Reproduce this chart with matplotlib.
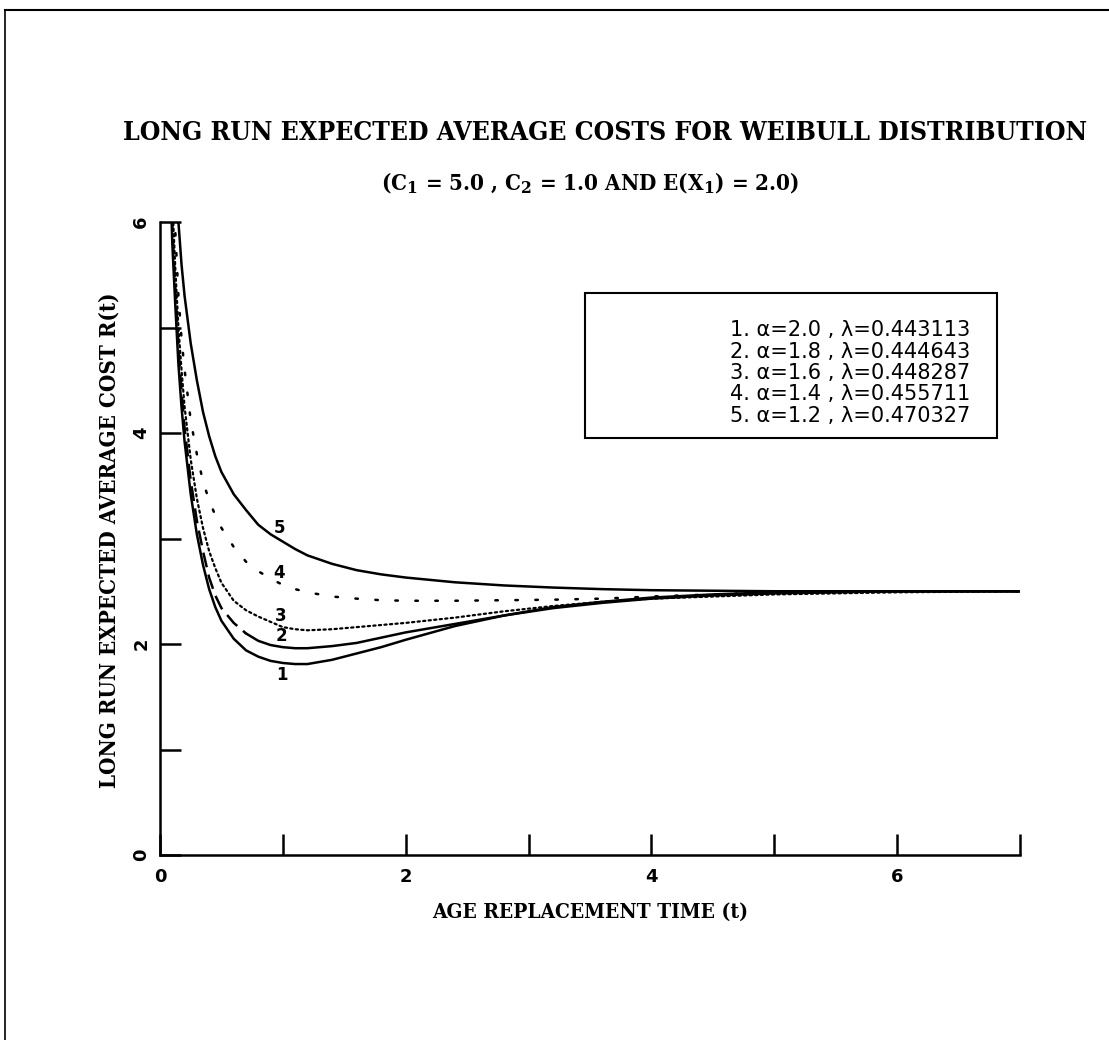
import matplotlib
matplotlib.use("Agg")
import matplotlib.pyplot as plt
from matplotlib.lines import Line2D
from matplotlib.patches import Rectangle

plt.rcParams['mathtext.fontset'] = 'custom'
plt.rcParams['mathtext.rm'] = 'DejaVu Serif:bold'
plt.rcParams['mathtext.it'] = 'DejaVu Serif:bold'
plt.rcParams['mathtext.bf'] = 'DejaVu Serif:bold'

# age replacement time t (shared grid) and R(t)
t = [0.08, 0.1, 0.125, 0.15, 0.175, 0.2, 0.25, 0.3, 0.35, 0.4, 0.45, 0.5, 0.6, 0.7, 0.8,
     0.9, 1.0, 1.1, 1.2, 1.4, 1.6, 1.8, 2.0, 2.4, 2.8, 3.2, 3.6, 4.0, 4.5, 5.0, 6.0, 7.0]

r1 = [6.6, 5.8, 5.2, 4.65, 4.25, 3.92, 3.42, 3.04, 2.75, 2.52, 2.35, 2.22, 2.05, 1.94, 1.88,
      1.84, 1.82, 1.81, 1.81, 1.85, 1.91, 1.97, 2.04, 2.17, 2.27, 2.35, 2.40, 2.44, 2.47,
      2.49, 2.50, 2.50]
r2 = [6.9, 5.95, 5.35, 4.8, 4.4, 4.05, 3.55, 3.17, 2.88, 2.63, 2.46, 2.34, 2.20, 2.10, 2.03,
      1.99, 1.97, 1.96, 1.96, 1.98, 2.01, 2.06, 2.11, 2.19, 2.27, 2.34, 2.39, 2.43, 2.46,
      2.48, 2.50, 2.50]
r3 = [7.2, 6.2, 5.55, 5.0, 4.6, 4.25, 3.75, 3.38, 3.10, 2.88, 2.72, 2.58, 2.41, 2.32, 2.26,
      2.21, 2.16, 2.14, 2.13, 2.14, 2.16, 2.18, 2.20, 2.25, 2.31, 2.36, 2.40, 2.43, 2.45,
      2.47, 2.49, 2.50]
r4 = [7.6, 6.6, 5.9, 5.3, 4.9, 4.6, 4.12, 3.80, 3.54, 3.36, 3.22, 3.10, 2.92, 2.78, 2.69,
      2.62, 2.56, 2.52, 2.49, 2.45, 2.43, 2.415, 2.41, 2.41, 2.415, 2.42, 2.43, 2.45, 2.47,
      2.49, 2.50, 2.50]
r5 = [9.0, 8.0, 6.8, 6.0, 5.6, 5.3, 4.85, 4.5, 4.2, 3.97, 3.78, 3.63, 3.42, 3.27, 3.13,
      3.04, 2.97, 2.90, 2.84, 2.76, 2.70, 2.66, 2.63, 2.585, 2.555, 2.535, 2.52, 2.51, 2.505,
      2.50, 2.50, 2.50]

curve_ids = ["1", "2", "3", "4", "5"]
id_x = [0.99, 0.99, 0.98, 0.97, 0.97]
id_y = [1.71, 2.08, 2.27, 2.67, 3.10]

legend_lines = [
    "1. α=2.0 , λ=0.443113",
    "2. α=1.8 , λ=0.444643",
    "3. α=1.6 , λ=0.448287",
    "4. α=1.4 , λ=0.455711",
    "5. α=1.2 , λ=0.470327",
]

W, H = 1109, 1040
def fx(px):
    return px / W
def fy(py):
    return 1 - py / H

fig = plt.figure(figsize=(W / 100, H / 100), dpi=100)

# page frame (top and left edges only)
fig.add_artist(Line2D([fx(5), 1], [fy(10), fy(10)], color="black", lw=1.5))
fig.add_artist(Line2D([fx(5), fx(5)], [fy(10), 0], color="black", lw=1.2))

ax = fig.add_axes([fx(160), fy(855), (1020 - 160) / W, (855 - 222) / H])

ax.plot(t, r1, color="black", lw=1.8)
# curve 2 starts dashed, then solid
k = t.index(0.7)
ax.plot(t[:k + 1], r2[:k + 1], color="black", lw=1.8, linestyle=(0, (6, 3)))
ax.plot(t[k:], r2[k:], color="black", lw=1.8)
ax.plot(t, r3, color="black", lw=1.6, linestyle=(0, (1, 1.5)), dash_capstyle="round")
ax.plot(t, r4, color="black", lw=1.8, linestyle=(0, (1, 7)), dash_capstyle="round")
ax.plot(t, r5, color="black", lw=1.8)

for cid, x, y in zip(curve_ids, id_x, id_y):
    ax.text(x, y, cid, fontsize=12, fontweight="bold", ha="center", va="center")

ax.set_xlim(0, 7)
ax.set_ylim(0, 6)
ax.spines["top"].set_visible(False)
ax.spines["right"].set_visible(False)
ax.spines["left"].set_linewidth(1.8)
ax.spines["bottom"].set_linewidth(1.8)

ax.set_xticks(range(8))
ax.set_xticklabels(["0", "", "2", "", "4", "", "6", ""])
ax.set_yticks(range(7))
ax.set_yticklabels(["0", "", "2", "", "4", "", "6"], rotation=90, va="center")
ax.tick_params(direction="in", length=15, width=1.8, labelsize=13)
ax.tick_params(axis="x", pad=9)
ax.tick_params(axis="y", pad=7)
for lab in ax.get_xticklabels() + ax.get_yticklabels():
    lab.set_fontweight("bold")

serif = dict(family="DejaVu Serif", fontweight="bold", fontstretch="condensed")
fig.text(fx(605), fy(132), "LONG RUN EXPECTED AVERAGE COSTS FOR WEIBULL DISTRIBUTION",
         fontsize=19, ha="center", va="center", **serif)
fig.text(fx(590), fy(183), r"(C$_1$ = 5.0 , C$_2$ = 1.0 AND E(X$_1$) = 2.0)",
         fontsize=16, ha="center", va="center", **serif)
fig.text(fx(110), fy(540), "LONG RUN EXPECTED AVERAGE COST R(t)",
         fontsize=16, rotation=90, ha="center", va="center", **serif)
fig.text(fx(590), fy(912), "AGE REPLACEMENT TIME (t)",
         fontsize=15, ha="center", va="center", **serif)

# legend box with parameter list
fig.add_artist(Rectangle((fx(585), fy(438)), (997 - 585) / W, (438 - 293) / H,
                         transform=fig.transFigure, fill=False, ec="black", lw=1.5))
for i, line in enumerate(legend_lines):
    fig.text(fx(730), fy(330 + 21.5 * i), line, family="DejaVu Sans", fontsize=15,
             ha="left", va="center")

fig.savefig("out.png", dpi=100)
